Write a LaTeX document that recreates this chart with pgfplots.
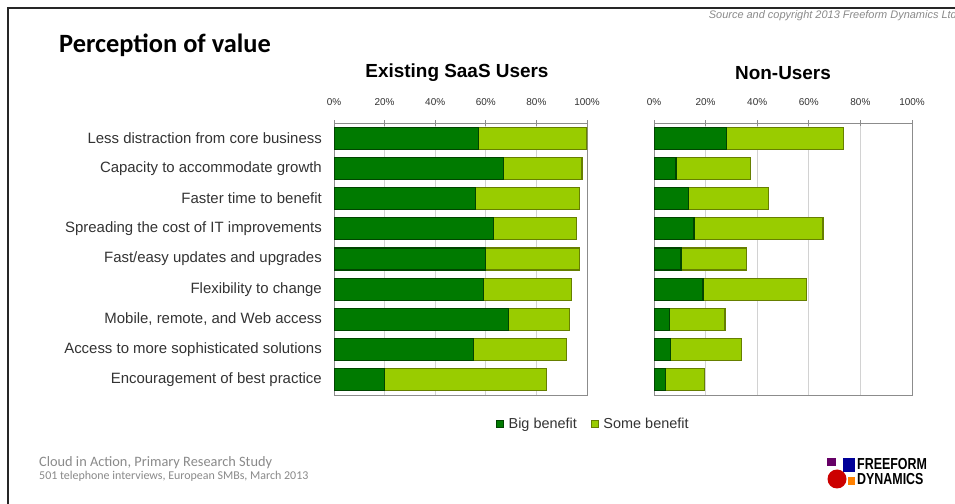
\documentclass[border=0pt]{standalone}
\usepackage{fontspec}
\setmainfont{Liberation Sans}
\newfontfamily\carlito{Carlito}
\usepackage{pgfplots}
\usepackage{pgfplotstable}
\pgfplotsset{compat=1.18}

\definecolor{bigfill}{HTML}{007A00}
\definecolor{bigedge}{HTML}{004400}
\definecolor{somefill}{HTML}{99CC00}
\definecolor{someedge}{HTML}{667F00}
\definecolor{gridc}{HTML}{D2D2D2}
\definecolor{axc}{HTML}{8C8C8C}
\definecolor{labc}{HTML}{333333}
\definecolor{footc}{HTML}{8A8A8A}

\pgfplotstableread{
idx big some
0 57 43
1 67 31
2 56 41
3 63 33
4 60 37
5 59 35
6 69 24
7 55 37
8 20 64
}\saas

\pgfplotstableread{
idx big some
0 28 45.5
1 8.5 29
2 13.5 31
3 15.5 50
4 10.5 25.5
5 19 40
6 6 21.5
7 6.5 27.5
8 4.5 15
}\nonusers

\pgfplotsset{
  mybar/.style={
    xbar stacked, scale only axis, height=272bp,
    xmin=0, xmax=100, ymin=-0.5, ymax=8.5, y dir=reverse,
    bar width=22bp,
    xtick={0,20,...,100},
    xticklabel={\pgfmathprintnumber{\tick}\%},
    /pgf/number format/assume math mode=true,
    xtick pos=right, xticklabel pos=right,
    xtick align=center, ytick align=outside,
    major tick length=6bp, minor tick length=4bp,
    xmajorgrids, grid style={gridc, line width=0.7bp},
    axis line style={axc, line width=0.9bp},
    every tick/.style={axc, line width=0.8bp},
    xticklabel style={font=\fontsize{10}{12}\selectfont, text=labc, yshift=11bp},
  },
}

\begin{document}
\begin{tikzpicture}
\path[use as bounding box, fill=white] (0bp,0bp) rectangle (955bp,504bp);
% slide border
\draw[black!85, line width=2.5bp] (8bp,0bp) -- (8bp,496bp) -- (955bp,496bp);

\node[anchor=west, inner sep=0pt] at (59bp,459bp) {\carlito\bfseries\fontsize{26.5}{30}\selectfont Perception of value};
\node[anchor=east, inner sep=0pt, text=footc] at (957bp,488bp) {\itshape\fontsize{11}{12}\selectfont Source and copyright 2013 Freeform Dynamics Ltd};
\node[inner sep=0pt] at (457bp,431bp) {\bfseries\fontsize{19}{22}\selectfont Existing SaaS Users};
\node[inner sep=0pt] at (783bp,431bp) {\bfseries\fontsize{19}{22}\selectfont Non-Users};

\begin{axis}[mybar, at={(334bp,109bp)}, anchor=south west, width=253bp,
  ytick={0,...,8},
  yticklabels={Less distraction from core business,Capacity to accommodate growth,Faster time to benefit,Spreading the cost of IT improvements,Fast/easy updates and upgrades,Flexibility to change,{Mobile, remote, and Web access},Access to more sophisticated solutions,Encouragement of best practice},
  ytick style={draw=none},
  minor ytick={-0.5,0.5,...,8.5},
  yticklabel style={font=\fontsize{15}{17}\selectfont, text=labc, inner sep=0pt, xshift=-6bp},
  legend style={at={(1.025,-0.107)}, anchor=center, draw=none, fill=none, legend columns=2,
    font=\fontsize{14.5}{16}\selectfont, text=labc,
    /tikz/every odd column/.append style={column sep=3bp},
    /tikz/every even column/.append style={column sep=12bp}},
  legend image code/.code={\draw[#1, line width=0.6bp] (0bp,-3.5bp) rectangle (7bp,3.5bp);},
]
\addplot[fill=bigfill, draw=bigedge, line width=1.2bp] table[x=big, y=idx] {\saas};
\addplot[fill=somefill, draw=someedge, line width=1.2bp] table[x=some, y=idx] {\saas};
\legend{Big benefit, Some benefit}
\end{axis}

\begin{axis}[mybar, at={(654bp,109bp)}, anchor=south west, width=258bp,
  ytick=\empty,
]
\addplot[fill=bigfill, draw=bigedge, line width=1.2bp] table[x=big, y=idx] {\nonusers};
\addplot[fill=somefill, draw=someedge, line width=1.2bp] table[x=some, y=idx] {\nonusers};
\end{axis}

\node[anchor=west, inner sep=0pt, text=footc] at (39bp,41bp) {\carlito\fontsize{14.4}{16}\selectfont Cloud in Action, Primary Research Study};
\node[anchor=west, inner sep=0pt, text=footc] at (39bp,28bp) {\carlito\fontsize{12}{13}\selectfont 501 telephone interviews, European SMBs, March 2013};

% logo
\fill[violet!80!black] (827bp,38bp) rectangle (836bp,46bp);
\fill[blue!60!black] (843bp,32bp) rectangle (855bp,46bp);
\fill[orange] (848bp,19bp) rectangle (855bp,27bp);
\fill[red!80!black] (837bp,25bp) circle (9.5bp);
\node[anchor=west, inner sep=0pt] at (857bp,40bp) {\scalebox{0.78}[1]{\bfseries\fontsize{16}{16}\selectfont FREEFORM}};
\node[anchor=west, inner sep=0pt] at (857bp,25bp) {\scalebox{0.78}[1]{\bfseries\fontsize{16}{16}\selectfont DYNAMICS}};
\end{tikzpicture}
\end{document}
